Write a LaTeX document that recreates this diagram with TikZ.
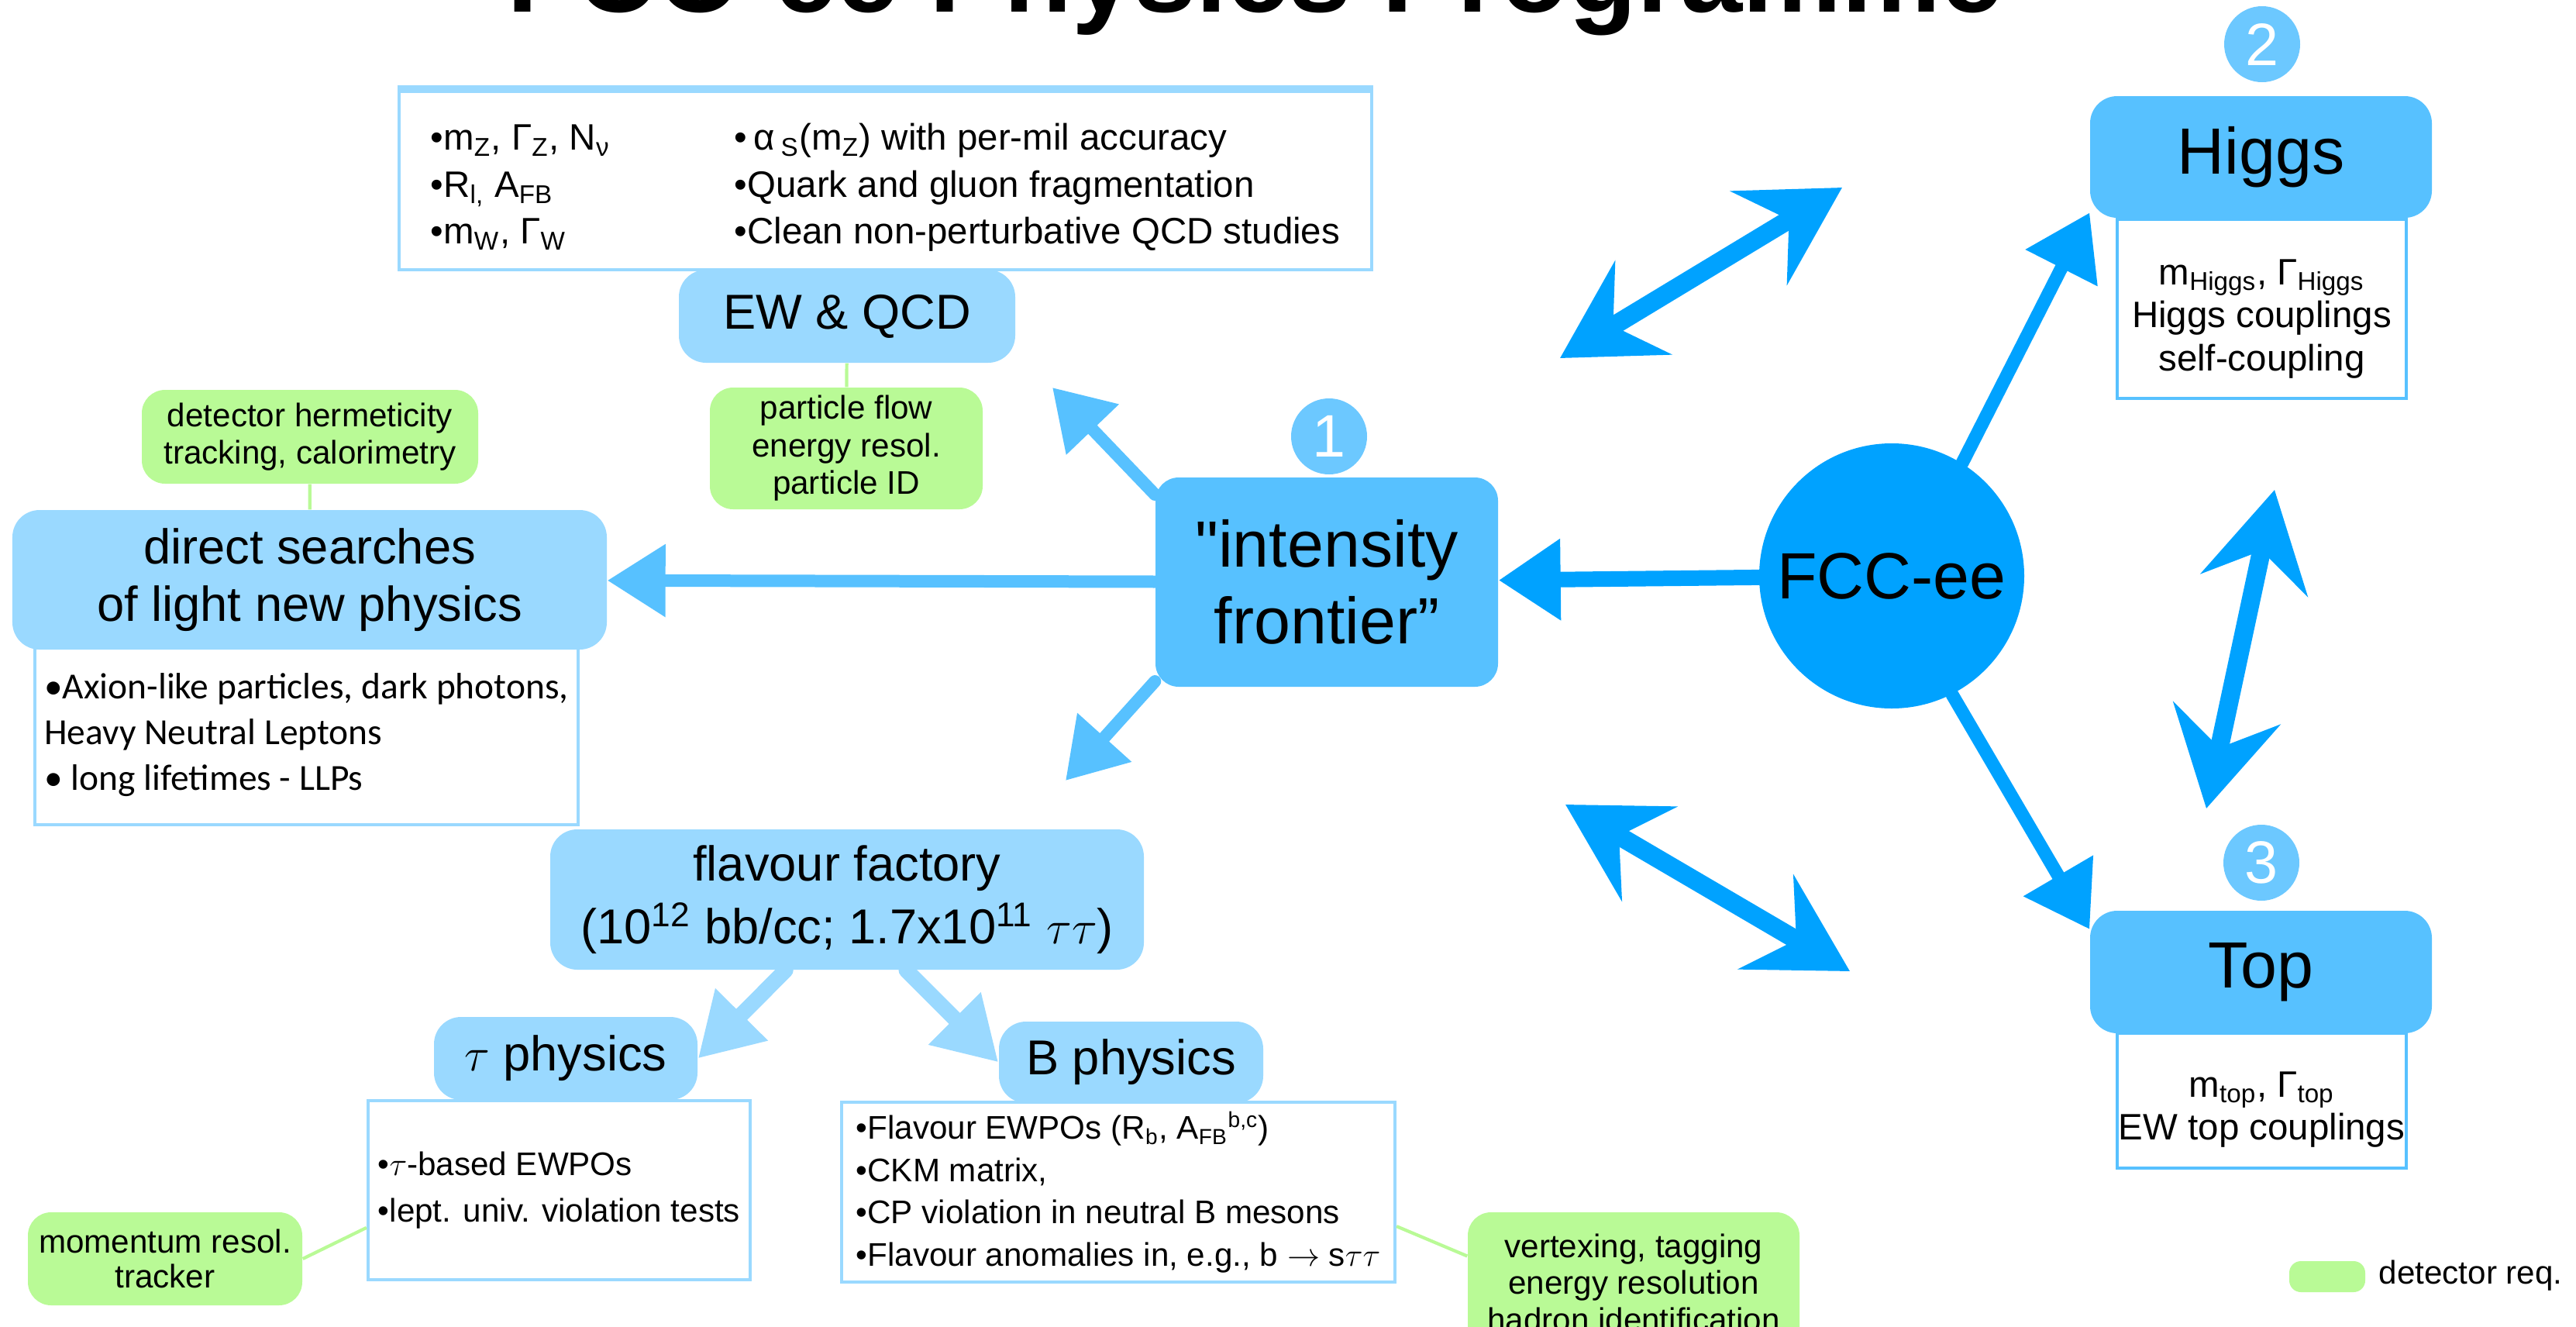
\documentclass[tikz,border=0pt]{standalone}
\usepackage{fontspec}
\setmainfont{Liberation Sans}
\newfontfamily\calib{Carlito}
\newfontfamily\quotefont{Liberation Sans}
\usetikzlibrary{arrows.meta}

\definecolor{paleblue}{HTML}{9AD9FF}
\definecolor{midblue}{HTML}{57C1FF}
\definecolor{ballblue}{HTML}{6CC8FF}
\definecolor{fccblue}{HTML}{00A2FF}
\definecolor{detgreen}{HTML}{B9FA96}

\tikzset{
  topic/.style={rounded corners=3.5mm, fill=paleblue, inner sep=0pt, align=center, font=\fontsize{18}{21}\selectfont},
  keytopic/.style={rounded corners=3.5mm, fill=midblue, inner sep=0pt, align=center, font=\fontsize{24}{28}\selectfont},
  infobox/.style={draw=paleblue, line width=1.2pt, fill=white, inner sep=0pt, align=left},
  keyinfo/.style={draw=midblue, line width=1.4pt, fill=white, inner sep=0pt, align=center, minimum width=3.73cm},
  detbox/.style={rounded corners=3mm, fill=detgreen, inner sep=0pt, align=center, font=\fontsize{12}{13.8}\selectfont},
  numball/.style={circle, fill=ballblue, text=white, minimum size=9.8mm, inner sep=0pt, font=\fontsize{22}{22}\selectfont},
  detlink/.style={detgreen, line width=1.2pt},
  fccarrow/.style={fccblue, line width=2mm, line cap=round, -{Triangle[length=8mm,width=10mm]}},
  intarrow/.style={midblue, line width=1.6mm, line cap=round, -{Triangle[length=7.5mm,width=9mm]}},
  flavarrow/.style={paleblue, line width=2mm, line cap=round, -{Triangle[length=8mm,width=9mm]}},
  linkarrow/.style={fccblue, line width=2.4mm, line cap=round, {Stealth[length=12.5mm,width=14mm,inset=4.5mm]}-{Stealth[length=12.5mm,width=14mm,inset=4.5mm]}}
}

\begin{document}
\begin{tikzpicture}
\useasboundingbox (0,0) rectangle (33.24,-17.11);

\draw (16.2,-0.15) node(TITLE)[anchor=base,font=\bfseries\fontsize{41}{41}\selectfont]{FCC-ee Physics Programme};

% EW and QCD branch
\draw (11.425,-2.325) node(EWINFO)[infobox,minimum width=12.55cm,minimum height=2.31cm,font=\fontsize{13.5}{17.2}\selectfont]{
\begin{tabular}{@{}p{3.92cm}@{}l@{}}
\rule{0pt}{0.62cm}•m\textsubscript{Z}, Γ\textsubscript{Z}, N\textsubscript{ν} & •\,α\,\textsubscript{S}(m\textsubscript{Z}) with per-mil accuracy\\
•R\textsubscript{l,} A\textsubscript{FB} & •Quark and gluon fragmentation\\
•m\textsubscript{W}, Γ\textsubscript{W} & •Clean non-perturbative QCD studies
\end{tabular}};
\draw[paleblue,line width=3pt] (EWINFO.north west) -- (EWINFO.north east);
\draw (10.93,-4.08) node(EWQCD)[topic,minimum width=4.34cm,minimum height=1.2cm]{EW \& QCD};
\draw (10.92,-5.785) node(PFLOW)[detbox,minimum width=3.52cm,minimum height=1.57cm]{particle flow\\energy resol.\\particle ID};
\draw[detlink] (EWQCD) -- (PFLOW);

% direct searches branch
\draw (4.00,-5.635) node(HERM)[detbox,minimum width=4.34cm,minimum height=1.21cm]{detector hermeticity\\tracking, calorimetry};
\draw (3.955,-9.48) node(DIRINFO)[infobox,minimum width=7.01cm,minimum height=2.32cm,font=\calib\fontsize{13.5}{16.8}\selectfont]{•Axion-like particles, dark photons,\\Heavy Neutral Leptons\\• long lifetimes - LLPs};
\draw (3.995,-7.48) node(DIRECT)[topic,minimum width=7.67cm,minimum height=1.8cm]{direct searches\\of light new physics};
\draw[detlink] (HERM) -- (DIRECT);

% intensity frontier and FCC-ee
\draw (17.15,-5.63) node(ONE)[numball]{1};
\draw (17.12,-7.51) node(INT)[keytopic,rounded corners=3mm,minimum width=4.42cm,minimum height=2.7cm]{{\quotefont"}intensity\\frontier”};
\draw (24.41,-7.43) node(FCC)[circle,fill=fccblue,minimum size=3.42cm,inner sep=0pt,font=\fontsize{24}{28}\selectfont]{FCC-ee};
\coordinate (UPL) at (13.58,-5.00);
\coordinate (DNL) at (13.75,-10.07);

\draw[fccarrow] (FCC) -- (INT);
\draw[intarrow] (INT) -- (DIRECT);
\draw[intarrow] (INT.153) -- (UPL);
\draw[intarrow] (INT.210) -- (DNL);

% Higgs and top
\draw (29.19,-0.57) node(TWO)[numball]{2};
\draw (29.185,-3.985) node(HIGGSINFO)[keyinfo,minimum height=2.31cm,font=\fontsize{13.5}{15.8}\selectfont]{\rule{0pt}{0.58cm}m\textsubscript{Higgs}, Γ\textsubscript{Higgs}\\Higgs couplings\\self-coupling};
\draw (29.175,-2.025) node(HIGGS)[keytopic,minimum width=4.41cm,minimum height=1.57cm]{Higgs};

\draw (29.18,-11.13) node(THREE)[numball]{3};
\draw (29.185,-14.20) node(TOPINFO)[keyinfo,minimum height=1.74cm,font=\fontsize{13.5}{15.6}\selectfont]{\rule{0pt}{0.55cm}m\textsubscript{top}, Γ\textsubscript{top}\\EW top couplings};
\draw (29.175,-12.54) node(TOP)[keytopic,minimum width=4.41cm,minimum height=1.58cm]{Top};

\draw[fccarrow,line width=1.7mm] (FCC.58) -- (HIGGS.198);
\draw[fccarrow,line width=1.7mm] (FCC.297) -- (TOP.166);

\coordinate (LA1) at (20.13,-4.62);
\coordinate (LA2) at (23.77,-2.42);
\coordinate (LB1) at (20.20,-10.38);
\coordinate (LB2) at (23.87,-12.53);
\coordinate (LC1) at (29.35,-6.32);
\coordinate (LC2) at (28.47,-10.43);
\draw[linkarrow] (LA1) -- (LA2);
\draw[linkarrow] (LB1) -- (LB2);
\draw[linkarrow] (LC1) -- (LC2);

% flavour factory branch
\draw (10.93,-11.605) node(FLAV)[topic,minimum width=7.66cm,minimum height=1.81cm,font=\fontsize{18}{23}\selectfont]{flavour factory\\(10\textsuperscript{12} bb/cc; 1.7x10\textsuperscript{11} $\tau\tau$)};

\draw (7.215,-15.355) node(TAUINFO)[infobox,minimum width=4.93cm,minimum height=2.31cm,font=\fontsize{12}{17}\selectfont]{•$\tau$-based EWPOs\\•lept. univ. violation tests};
\draw (7.30,-13.655) node(TAU)[topic,minimum width=3.40cm,minimum height=1.07cm]{$\tau$ physics};

\draw (14.43,-15.38) node(BINFO)[infobox,minimum width=7.14cm,minimum height=2.32cm,font=\fontsize{12}{15.5}\selectfont]{•Flavour EWPOs (R\textsubscript{b}, A\textsubscript{FB}\textsuperscript{b,c})\\•CKM matrix,\\•CP violation in neutral B mesons\\•Flavour anomalies in, e.g., b $\rightarrow$ s$\tau\tau$};
\draw (14.595,-13.705) node(BPHYS)[topic,minimum width=3.41cm,minimum height=1.05cm]{B physics};

\draw[flavarrow] (FLAV.229) -- (TAU.east);
\draw[flavarrow] (FLAV.310) -- (BPHYS.west);

\draw (2.13,-16.24) node(MOMENT)[detbox,minimum width=3.54cm,minimum height=1.2cm,font=\fontsize{12}{13}\selectfont]{momentum resol.\\tracker};
\draw (21.08,-16.545) node(VERTEX)[detbox,minimum width=4.28cm,minimum height=1.81cm,font=\fontsize{12}{13.5}\selectfont]{vertexing, tagging\\energy resolution\\hadron identification};
\draw[detlink] (MOMENT.east) -- (TAUINFO.191);
\draw[detlink] (BINFO.-7) -- (VERTEX.171);

% legend
\draw (30.03,-16.47) node(LEGKEY)[rounded corners=1.5mm,fill=detgreen,minimum width=0.98cm,minimum height=0.4cm,inner sep=0pt]{};
\draw (30.69,-16.46) node(LEGTXT)[anchor=west,inner sep=0pt,font=\fontsize{12}{12}\selectfont]{detector req.};

\end{tikzpicture}
\end{document}
